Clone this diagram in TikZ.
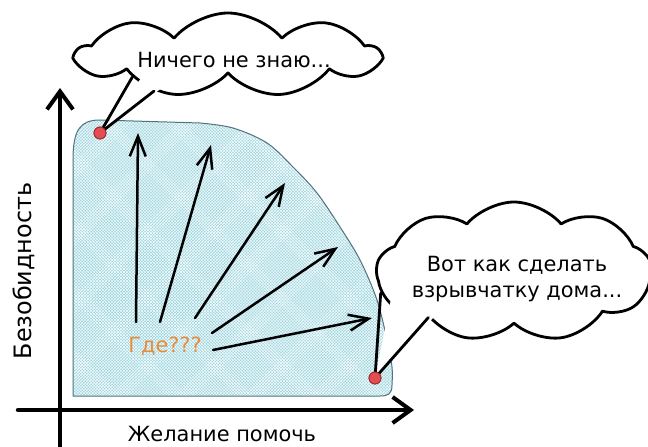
\documentclass[tikz,border=0pt]{standalone}
\usepackage{fontspec}
\setmainfont{DejaVu Sans}
\usetikzlibrary{arrows.meta,shapes.symbols,patterns,calc}
\definecolor{regionbg}{RGB}{158,214,224}
\definecolor{regionedge}{RGB}{80,115,125}
\definecolor{dotred}{RGB}{226,78,82}
\definecolor{dotedge}{RGB}{150,40,45}
\definecolor{gdeorange}{RGB}{230,140,60}
\begin{document}
\begin{tikzpicture}[x=1bp,y=-1bp,line join=round,line cap=round]
\tikzset{
  axisline/.style={line width=4.5bp,-{Straight Barb[length=18bp,width=26bp,line width=4bp]}},
  fanarrow/.style={line width=2.5bp,-{Straight Barb[length=20bp,width=16bp,line width=2.5bp]}},
  bubble/.style={cloud,cloud puffs=9,cloud puff arc=100,cloud ignores aspect,draw=black,line width=2.8bp,fill=white,inner sep=0pt},
  tailline/.style={line width=2.8bp},
  reddot/.style={circle,fill=dotred,draw=dotedge,line width=0.8bp,minimum size=12bp,inner sep=0pt},
  handtext/.style={font=\fontsize{21}{27}\selectfont,align=center},
}
\useasboundingbox (0,0) rectangle (648,447);
\clip (0,0) rectangle (648,447);

% shaded region
\path[preaction={fill=regionbg},pattern=crosshatch,pattern color=white,draw=regionedge,line width=1bp]
  (73,392) -- (73,160) .. controls (73,130) and (80,120) .. (100,120)
  -- plot[smooth,tension=0.55] coordinates {(200,123) (233,128) (267,143) (293,167) (317,193) (340,227) (360,260) (377,300) (387,340) (392,367) (392,385)}
  .. controls (392,394) and (388,396) .. (380,396) -- (73,396) -- cycle;

% label
\node[handtext,text=gdeorange] (g) at (165,346) {Где???};

% fan arrows
\coordinate (s1) at (136,322); \coordinate (e1) at (138,133);
\coordinate (s2) at (160,322); \coordinate (e2) at (211,145);
\coordinate (s3) at (195,318); \coordinate (e3) at (285,183);
\coordinate (s4) at (212,333); \coordinate (e4) at (338,247);
\coordinate (s5) at (213,350); \coordinate (e5) at (372,318);
\draw[fanarrow] (s1) -- (e1);
\draw[fanarrow] (s2) -- (e2);
\draw[fanarrow] (s3) -- (e3);
\draw[fanarrow] (s4) -- (e4);
\draw[fanarrow] (s5) -- (e5);

% axes
\coordinate (yb) at (60,450); \coordinate (yt) at (60,88);
\coordinate (xl) at (18,410); \coordinate (xr) at (414,410);
\draw[axisline] (yb) -- (yt);
\draw[axisline] (xl) -- (xr);

\node[handtext,font=\fontsize{24}{28}\selectfont,rotate=90] (ylab) at (24,271) {Безобидность};
\node[handtext,anchor=base] (xlab) at (222,441) {Желание помочь};

% clouds
\node[bubble,minimum width=302bp,minimum height=84bp] (c1) at (228,55) {};
\node[handtext] (c1t) at (234,60) {Ничего не знаю...};
\node[bubble,minimum width=275bp,minimum height=140bp] (c2) at (514,272) {};
\node[handtext] (c2t) at (517,279) {Вот как сделать\\взрывчатку дома...};

% tails
\node[reddot] (d1) at (100,133) {};
\node[reddot] (d2) at (375,378) {};
\coordinate (t1a) at (c1.193); \coordinate (t1b) at (c1.206);
\coordinate (t2a) at (c2.189); \coordinate (t2b) at (c2.208);
\fill[white] ($(t1a)!12bp!(c1.center)$) -- ($(t1b)!12bp!(c1.center)$) -- (d1.center) -- cycle;
\fill[white] ($(t2a)!12bp!(c2.center)$) -- ($(t2b)!12bp!(c2.center)$) -- (d2.center) -- cycle;
\draw[tailline] (t1a) -- (d1.center);
\draw[tailline] (t1b) -- (d1.center);
\draw[tailline] (t2a) -- (d2.center);
\draw[tailline] (t2b) -- (d2.center);
\node[reddot] at (d1) {};
\node[reddot] at (d2) {};
\end{tikzpicture}
\end{document}
